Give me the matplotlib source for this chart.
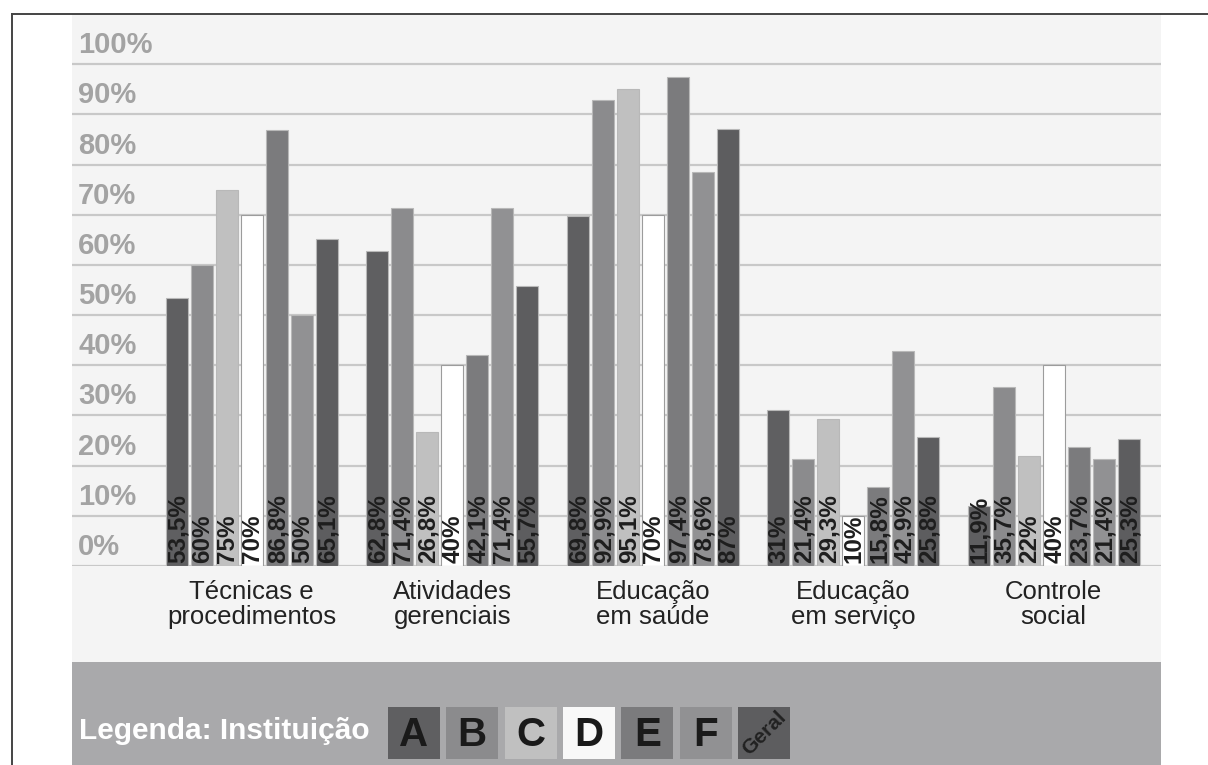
import numpy as np
import matplotlib
matplotlib.use('Agg')
import matplotlib.pyplot as plt
from matplotlib.patches import Rectangle
from matplotlib.lines import Line2D

plt.rcParams['font.family'] = ['Liberation Sans', 'DejaVu Sans']

# data
categories = ['Técnicas e\nprocedimentos', 'Atividades\ngerenciais', 'Educação\nem saúde',
              'Educação\nem serviço', 'Controle\nsocial']
institutions = ['A', 'B', 'C', 'D', 'E', 'F', 'Geral']
vals_A = [53.5, 62.8, 69.8, 31, 11.9]
vals_B = [60, 71.4, 92.9, 21.4, 35.7]
vals_C = [75, 26.8, 95.1, 29.3, 22]
vals_D = [70, 40, 70, 10, 40]
vals_E = [86.8, 42.1, 97.4, 15.8, 23.7]
vals_F = [50, 71.4, 78.6, 42.9, 21.4]
vals_geral = [65.1, 55.7, 87, 25.8, 25.3]
y_ticks = [0, 10, 20, 30, 40, 50, 60, 70, 80, 90, 100]

series = [vals_A, vals_B, vals_C, vals_D, vals_E, vals_F, vals_geral]
colors = ['#5f5f61', '#8b8b8d', '#c0c0c0', '#ffffff', '#7b7b7d', '#919193', '#5d5d5f']

W, H = 1208, 765
fig = plt.figure(figsize=(W / 100, H / 100), dpi=100)
fig.patch.set_facecolor('white')

def fx(px):
    return px / W

def fy(py):
    return 1 - py / H

# background panels
fig.patches.append(Rectangle((fx(72), fy(662)), fx(1161) - fx(72), fy(14) - fy(662),
                             transform=fig.transFigure, facecolor='#f4f4f4', edgecolor='none', zorder=-2))
fig.patches.append(Rectangle((fx(72), fy(765)), fx(1161) - fx(72), fy(662) - fy(765),
                             transform=fig.transFigure, facecolor='#a9a9ab', edgecolor='none', zorder=-2))
# frame lines
fig.lines.append(Line2D([fx(12), 1], [fy(14), fy(14)], transform=fig.transFigure, color='#444444', lw=1.4))
fig.lines.append(Line2D([fx(12), fx(12)], [fy(14), 0], transform=fig.transFigure, color='#444444', lw=1.4))

ax = fig.add_axes([fx(72), fy(566), fx(1161) - fx(72), fy(14) - fy(566)])
ax.set_zorder(1)
ax.set_facecolor('none')
ax.set_xlim(-0.896, 4.535)
ax.set_ylim(0, 110)
for s in ax.spines.values():
    s.set_visible(False)
ax.set_xticks([])
ax.set_yticks([])

for t in y_ticks:
    ax.axhline(t, color='#c8c8c8', lw=1.6, zorder=1)
    ax.text(-0.866, t + 2.2, f'{t}%', ha='left', va='baseline', fontsize=21,
            fontweight='bold', color='#a3a3a3', zorder=2)

x = np.arange(len(categories))
step = 0.1247
bw = 0.11
for i, (vals, c) in enumerate(zip(series, colors)):
    xs = x + (i - 3) * step
    edge = '#9c9c9c' if c == '#ffffff' else '#b8b8b8'
    ax.bar(xs, vals, width=bw, color=c, edgecolor=edge, lw=0.8, zorder=3)
    for xi, v in zip(xs, vals):
        lab = f'{v:g}'.replace('.', ',') + '%'
        ax.text(xi + 0.006, 0.5, lab, rotation=90, ha='center', va='bottom', fontsize=17.5,
                fontweight='bold', color='#1e1e1e', zorder=4)

for xi, cat in zip(x, categories):
    ax.text(xi, -2.8, cat, ha='center', va='top', fontsize=18.5, color='#222222',
            linespacing=1.05, clip_on=False)

# legend
fig.text(fx(79), fy(731), 'Legenda: Instituição', ha='left', va='center', fontsize=21.5,
         fontweight='bold', color='white')
for i, (name, c) in enumerate(zip(institutions, colors)):
    x0 = 388 + i * 58.3
    fig.patches.append(Rectangle((fx(x0), fy(759)), fx(52), fy(707) - fy(759),
                                 transform=fig.transFigure, facecolor=c if c != '#ffffff' else '#f8f8f8',
                                 edgecolor='none', zorder=1))
    cx, cy = fx(x0 + 26), fy(733)
    if name == 'Geral':
        fig.text(cx, cy, name, ha='center', va='center', rotation=45, fontsize=15,
                 fontweight='bold', color='#222222')
    else:
        fig.text(cx, fy(735), name, ha='center', va='center', fontsize=29,
                 fontweight='bold', color='#1a1a1a')

fig.savefig('out.png', dpi=100)
